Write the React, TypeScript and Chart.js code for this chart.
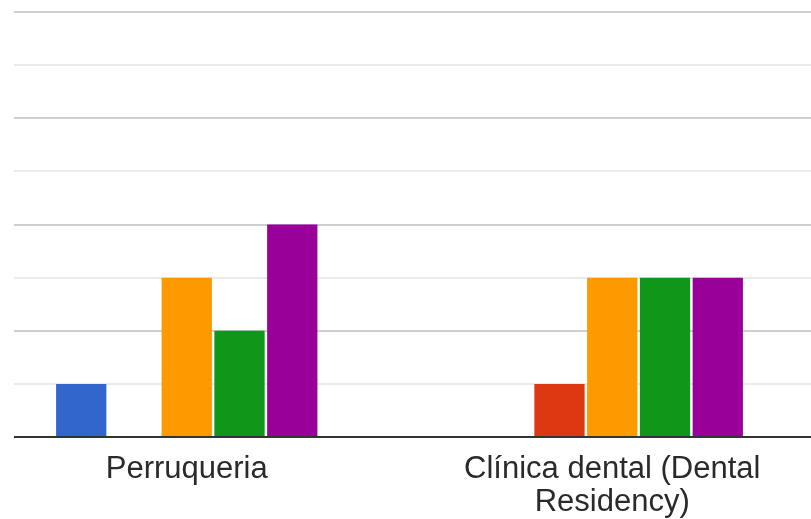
import React, { useEffect, useRef } from "react";
import { Chart, registerables } from "chart.js";

Chart.register(...registerables);

const categories: (string | string[])[] = [
  "Perruqueria",
  ["Clínica dental (Dental", "Residency)"],
];
const seriesNames = ["1", "2", "3", "4", "5"];
const serie1 = [1, 0];
const serie2 = [0, 1];
const serie3 = [3, 3];
const serie4 = [2, 3];
const serie5 = [4, 3];
const seriesColors = ["#3366cc", "#dc3912", "#ff9900", "#109618", "#990099"];
const yTicks = [0, 1, 2, 3, 4, 5, 6, 7, 8];

export default function App() {
  const ref = useRef<HTMLCanvasElement | null>(null);

  useEffect(() => {
    if (!ref.current) return;
    const values = [serie1, serie2, serie3, serie4, serie5];
    const chart = new Chart(ref.current, {
      type: "bar",
      data: {
        labels: categories as any,
        datasets: values.map((v, i) => ({
          label: seriesNames[i],
          data: v,
          backgroundColor: seriesColors[i],
          borderWidth: 0,
          categoryPercentage: 0.62,
          barPercentage: 0.953,
        })),
      },
      options: {
        responsive: false,
        animation: false,
        layout: { padding: { top: 12, left: 0, right: 0, bottom: 0 } },
        plugins: { legend: { display: false }, tooltip: { enabled: false } },
        scales: {
          x: {
            grid: { display: false, drawTicks: false },
            border: { display: true, color: "#333333", width: 2 },
            ticks: {
              color: "#2a2a2a",
              padding: 16,
              maxRotation: 0,
              autoSkip: false,
              font: { family: "'Liberation Sans', Arial, sans-serif", size: 31, lineHeight: 1.06 },
            },
            afterFit: (s: any) => {
              s.height = 82;
            },
          },
          y: {
            min: yTicks[0],
            max: yTicks[yTicks.length - 1],
            afterBuildTicks: (s: any) => {
              s.ticks = yTicks.map((v) => ({ value: v }));
            },
            ticks: { display: false },
            border: { display: false },
            grid: {
              drawTicks: false,
              lineWidth: 2,
              color: (ctx: any) => {
                const v = ctx.tick ? ctx.tick.value : 0;
                if (v === 0) return "#333333";
                return v % 2 === 0 ? "#cfcfcf" : "#ebebeb";
              },
            },
            afterFit: (s: any) => {
              s.width = 0;
            },
          },
        },
      },
    });
    return () => chart.destroy();
  }, []);

  return (
    <div
      style={{
        position: "fixed",
        left: 0,
        top: 0,
        width: 811,
        height: 519,
        overflow: "hidden",
        background: "#ffffff",
      }}
    >
      <canvas
        ref={ref}
        width={851}
        height={519}
        style={{ position: "absolute", left: -26, top: 0, width: 851, height: 519 }}
      />
      <div
        style={{
          position: "absolute",
          left: 0,
          top: 0,
          width: 14,
          height: 442,
          background: "#ffffff",
        }}
      />
    </div>
  );
}
